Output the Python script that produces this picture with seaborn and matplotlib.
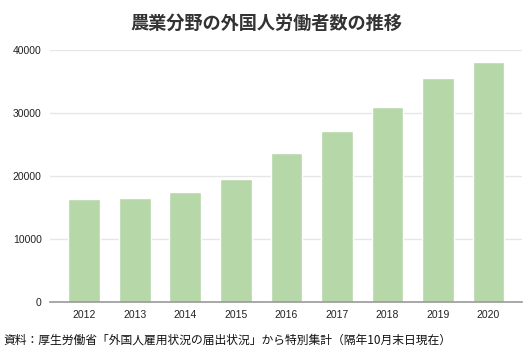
import matplotlib
matplotlib.use("Agg")
import matplotlib.pyplot as plt
import seaborn as sns
import pandas as pd

years = ["2012", "2013", "2014", "2015", "2016", "2017", "2018", "2019", "2020"]
workers = [16300, 16550, 17400, 19500, 23650, 27100, 31030, 35500, 38060]
y_ticks = [0, 10000, 20000, 30000, 40000]

title = "農業分野の外国人労働者数の推移"
source = "資料：厚生労働省「外国人雇用状況の届出状況」から特別集計（隔年10月末日現在）"

sns.set_theme(style="white")
plt.rcParams["font.family"] = ["Liberation Sans", "Noto Sans CJK JP"]

df = pd.DataFrame({"year": years, "workers": workers})

fig = plt.figure(figsize=(5.32, 3.5), dpi=100)
ax = fig.add_axes([0.094, 0.137, 0.887, 0.72])

sns.barplot(data=df, x="year", y="workers", order=years, color="#b6d7a8",
            saturation=1, width=0.63, ax=ax, zorder=3)

ax.set_ylim(0, 40000)
ax.set_xlim(-0.68, 8.66)
ax.set_yticks(y_ticks)
ax.set_yticklabels([str(v) for v in y_ticks])
ax.set_xlabel("")
ax.set_ylabel("")

ax.yaxis.grid(True, color="#e6e6e6", linewidth=1, zorder=0)
ax.xaxis.grid(False)
for side in ["top", "right", "left"]:
    ax.spines[side].set_visible(False)
ax.spines["bottom"].set_color("#999999")
ax.spines["bottom"].set_linewidth(1.2)
ax.spines["bottom"].set_zorder(4)

ax.tick_params(axis="both", length=0, labelsize=7.5, colors="#222222")
ax.tick_params(axis="y", pad=6)
ax.tick_params(axis="x", pad=6)

fig.text(0.5, 0.933, title, ha="center", va="center", fontsize=13.1,
         fontweight="bold", color="#333333",
         family=["Noto Sans CJK JP", "DejaVu Sans"])
fig.text(0.006, 0.028, source, ha="left", va="center", fontsize=8.5,
         color="#111111", family=["Noto Sans CJK JP", "DejaVu Sans"])

fig.savefig("out.png", dpi=100)
